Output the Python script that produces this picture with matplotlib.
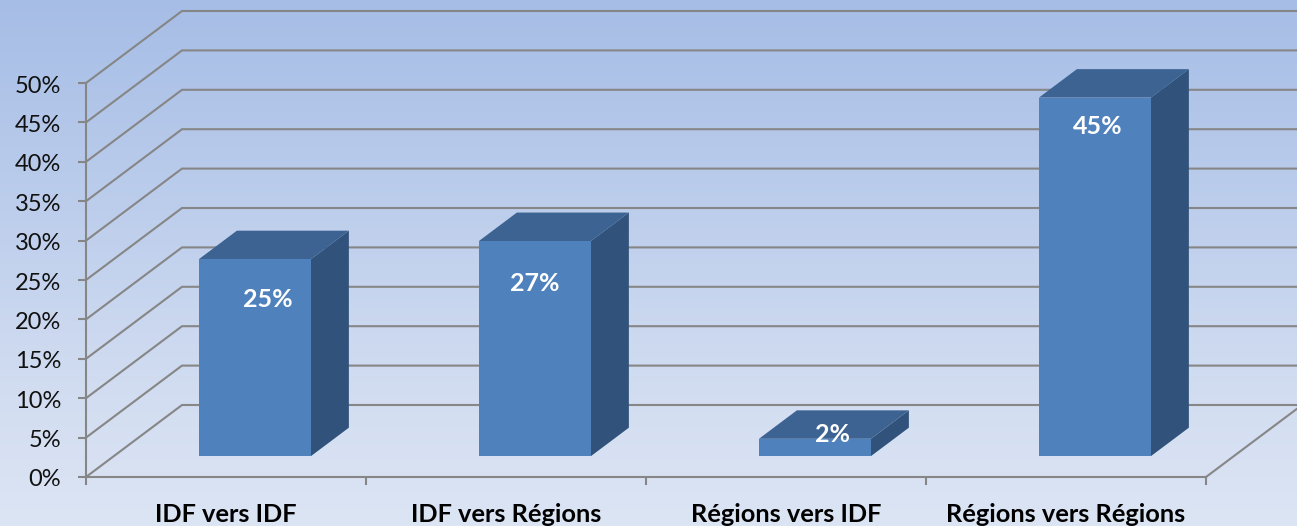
import numpy as np
import matplotlib
matplotlib.use("Agg")
import matplotlib.pyplot as plt
from matplotlib.colors import LinearSegmentedColormap
from matplotlib.transforms import ScaledTranslation

categories = ["IDF vers IDF", "IDF vers Régions", "Régions vers IDF", "Régions vers Régions"]
values = [25.0, 27.3, 2.2, 45.5]
labels = ["25%", "27%", "2%", "45%"]
yticks = [0, 5, 10, 15, 20, 25, 30, 35, 40, 45, 50]

# pixel offset of each data label from top centre of the bar front
label_dx = [14, 1, 19, 4]
label_dy = [-40, -43, 4, -29]

plt.rcParams["font.family"] = ["Lato", "DejaVu Sans"]

GRID = "#868686"
FRONT = "#4F81BD"
TOP = "#3C6392"
SIDE = "#31537B"
PX = 0.72  # points per pixel at dpi 100

W, H = 1297, 526
X0, X1, Y0, Y1 = 86, 1206, 477, 83
DEPTH_X = 96 / ((X1 - X0) / 4)  # in category units
DEPTH_Y = 72 / ((Y0 - Y1) / 50)  # in percent units


def proj(x, y, z):
    return x + z * DEPTH_X, y + z * DEPTH_Y


fig = plt.figure(figsize=(W / 100, H / 100), dpi=100)

bg = fig.add_axes([0, 0, 1, 1], zorder=0)
cmap = LinearSegmentedColormap.from_list(
    "bg", [(0, "#A6BDE6"), (0.4, "#BDCEEC"), (0.75, "#D2DDF1"), (1, "#DCE5F4")])
bg.imshow(np.linspace(0, 1, 256).reshape(-1, 1), aspect="auto", cmap=cmap)
bg.axis("off")

ax = fig.add_axes([X0 / W, (H - Y0) / H, (X1 - X0) / W, (Y0 - Y1) / H], zorder=1)
ax.patch.set_alpha(0)
ax.set_xlim(0, 4)
ax.set_ylim(0, 50)

# walls
for t in yticks:
    xs, ys = zip(proj(0, t, 0), proj(0, t, 1), proj(4, t, 1))
    ax.plot(xs, ys, color=GRID, lw=1.5, clip_on=False, zorder=1, solid_joinstyle="miter")
xs, ys = zip(proj(4, 0, 0), proj(4, 0, 1))
ax.plot(xs, ys, color=GRID, lw=1.5, clip_on=False, zorder=1)

# 3d bars
z0, z1 = 0.29, 0.685
bw = 0.4
shift = 0.004
for i, v in enumerate(values):
    l = i + 0.5 - bw / 2 + shift
    r = i + 0.5 + bw / 2 + shift
    front = [proj(l, 0, z0), proj(r, 0, z0), proj(r, v, z0), proj(l, v, z0)]
    top = [proj(l, v, z0), proj(r, v, z0), proj(r, v, z1), proj(l, v, z1)]
    side = [proj(r, 0, z0), proj(r, 0, z1), proj(r, v, z1), proj(r, v, z0)]
    ax.fill(*zip(*side), color=SIDE, lw=0, clip_on=False, zorder=3)
    ax.fill(*zip(*top), color=TOP, lw=0, clip_on=False, zorder=3)
    ax.fill(*zip(*front), color=FRONT, lw=0, clip_on=False, zorder=4)
    cx, cy = proj(i + 0.5, v, z0)
    ax.annotate(labels[i], (cx, cy), xytext=(label_dx[i] * PX, label_dy[i] * PX),
                textcoords="offset points", ha="center", va="center",
                color="white", fontsize=18, fontweight="bold", zorder=5,
                annotation_clip=False)

for s in ["top", "right"]:
    ax.spines[s].set_visible(False)
for s in ["left", "bottom"]:
    ax.spines[s].set_color(GRID)
    ax.spines[s].set_linewidth(1.5)

ax.set_yticks(yticks)
ax.set_yticklabels([str(t) + "%" for t in yticks], fontsize=17, color="#111111")
ax.tick_params(axis="y", length=6, width=1.5, color=GRID, pad=12)
# labels sit a pixel lower than the tick
down = ScaledTranslation(0, -1 / 100, fig.dpi_scale_trans)
for lab in ax.get_yticklabels():
    lab.set_transform(lab.get_transform() + down)

ax.set_xticks(range(5))
ax.set_xticklabels([])
ax.tick_params(axis="x", which="major", length=6, width=1.5, color=GRID)
ax.set_xticks([0.5, 1.5, 2.5, 3.5], minor=True)
ax.set_xticklabels(categories, minor=True, fontsize=18.3, fontweight="bold", color="black")
ax.tick_params(axis="x", which="minor", length=0, pad=19)

fig.savefig("out.png", dpi=100)
